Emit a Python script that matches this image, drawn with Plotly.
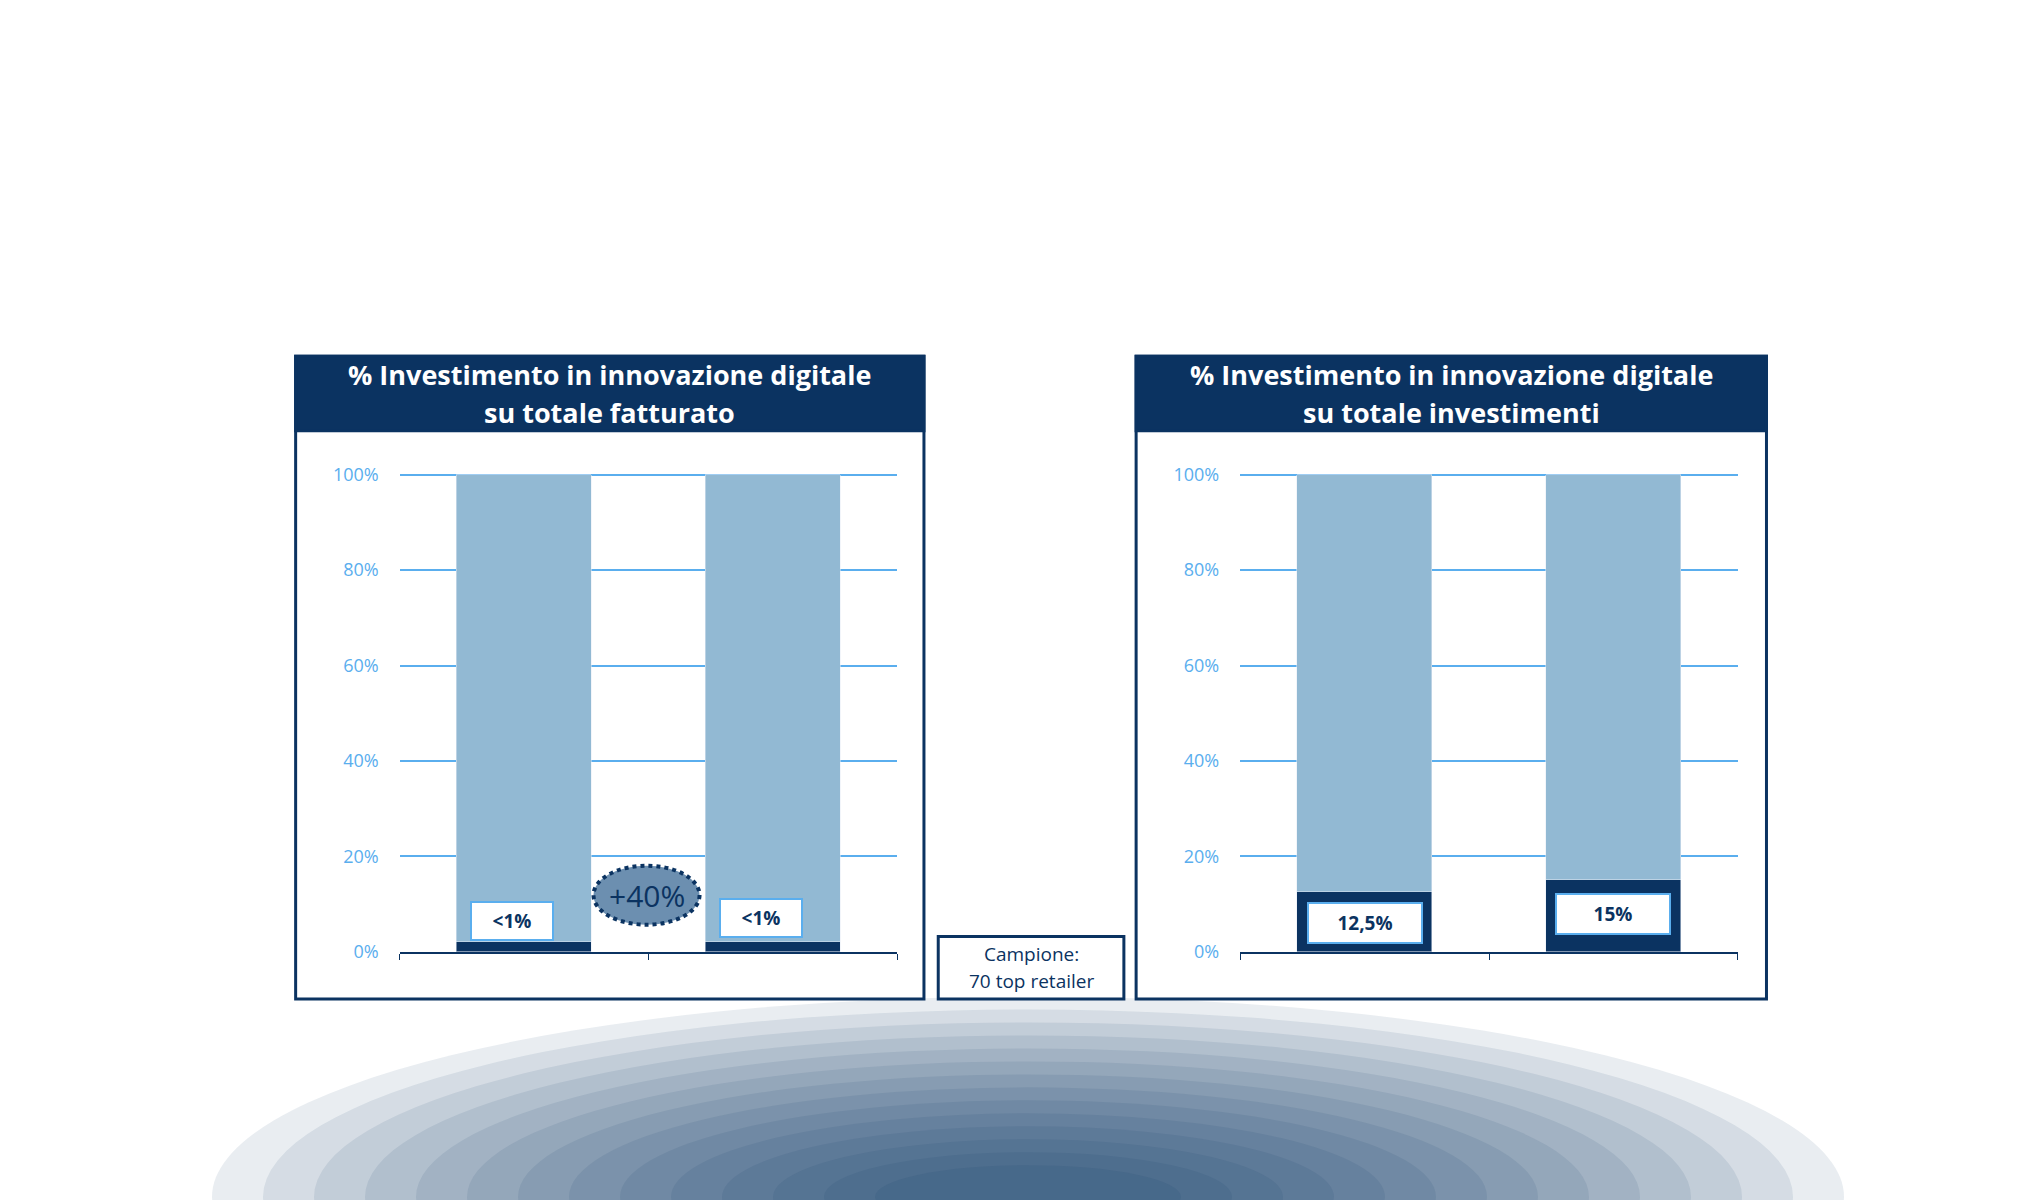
import plotly.graph_objects as go

# data
positions = [0, 1]
left_digital = [2, 2]
left_rest = [98, 98]
left_labels = ["<1%", "<1%"]
right_digital = [12.5, 15]
right_rest = [87.5, 85]
right_labels = ["12,5%", "15%"]
tick_vals = [0, 20, 40, 60, 80, 100]
tick_text = ["0%", "20%", "40%", "60%", "80%", "100%"]

NAVY = "#0b3361"
LIGHT = "#92b9d3"
GRID = "#5aaeee"
FONT = "Open Sans"

fig = go.Figure()

for xa, ya, dig, rest in [("x", "y", left_digital, left_rest), ("x2", "y2", right_digital, right_rest)]:
    fig.add_bar(x=positions, y=dig, marker_color=NAVY, width=0.54, xaxis=xa, yaxis=ya, showlegend=False)
    fig.add_bar(x=positions, y=rest, marker_color=LIGHT, width=0.54, xaxis=xa, yaxis=ya, showlegend=False)

axis_x = dict(range=[-0.5, 1.5], tickvals=[-0.5, 0.5, 1.5], ticktext=["", "", ""], ticks="outside",
              ticklen=6, tickcolor=NAVY, showline=True, linecolor=NAVY, linewidth=2,
              showgrid=False, zeroline=False, fixedrange=True)
axis_y = dict(range=[0, 100.6], tickvals=tick_vals, ticktext=tick_text, showgrid=True,
              gridcolor=GRID, gridwidth=2, zeroline=False, ticks="", ticklabelstandoff=20,
              tickfont=dict(family=FONT, size=18, color=GRID))

fig.update_layout(
    width=2040, height=1200, barmode="stack", plot_bgcolor="white", paper_bgcolor="white",
    margin=dict(l=0, r=0, t=0, b=0), bargap=0,
    xaxis=dict(domain=[0.192, 0.436], anchor="y", **axis_x),
    yaxis=dict(domain=[0.208, 0.615], anchor="x", **axis_y),
    xaxis2=dict(domain=[0.604, 0.848], anchor="y2", **axis_x),
    yaxis2=dict(domain=[0.208, 0.615], anchor="x2", **axis_y),
)

shapes = []
# soft bottom glow
for k in range(14):
    w = 0.40 - k * 0.025
    h = 0.17 - k * 0.011
    shapes.append(dict(type="circle", xref="paper", yref="paper", x0=0.5 - w, x1=0.5 + w,
                       y0=-h, y1=h, fillcolor=NAVY, opacity=0.09, line_width=0, layer="below"))

def note(x, y, text, size, color, **kw):
    fig.add_annotation(xref="paper", yref="paper", x=x, y=y, text=text, showarrow=False,
                       xanchor="center", yanchor="middle", align="center",
                       font=dict(family=FONT, size=size, color=color), **kw)

# panel frames and headers
for x0, x1, t1, t2 in [(0.141, 0.449, "% Investimento in innovazione digitale", "su totale fatturato"),
                       (0.553, 0.862, "% Investimento in innovazione digitale", "su totale investimenti")]:
    shapes.append(dict(type="rect", xref="paper", yref="paper", x0=x0, x1=x1, y0=0.168, y1=0.713,
                       line=dict(color=NAVY, width=3), fillcolor="rgba(0,0,0,0)"))
    shapes.append(dict(type="rect", xref="paper", yref="paper", x0=x0, x1=x1, y0=0.65, y1=0.713,
                       line=dict(color=NAVY, width=3), fillcolor=NAVY))
    note((x0 + x1) / 2, 0.698, "<b>" + t1 + "</b>", 27, "white")
    note((x0 + x1) / 2, 0.665, "<b>" + t2 + "</b>", 27, "white")
# campione box
shapes.append(dict(type="rect", xref="paper", yref="paper", x0=0.456, x1=0.547, y0=0.168, y1=0.221,
                   line=dict(color=NAVY, width=3), fillcolor="white"))
note(0.5015, 0.2065, "Campione:", 19, NAVY)
note(0.5015, 0.183, "70 top retailer", 19, NAVY)
# +40% badge
shapes.append(dict(type="circle", xref="paper", yref="paper", x0=0.287, x1=0.339, y0=0.231, y1=0.281,
                   fillcolor="#6c8fb0", line=dict(color=NAVY, width=4, dash="dot")))
note(0.313, 0.256, "+40%", 30, NAVY)
fig.update_layout(shapes=shapes)

for i, lab in enumerate(left_labels):
    fig.add_annotation(x=positions[i] - 0.05, y=[6.5, 7][i], xref="x", yref="y", text="<b>" + lab + "</b>",
                       showarrow=False, bgcolor="white", bordercolor=GRID, borderwidth=2, borderpad=5,
                       width=70, xanchor="center", yanchor="middle",
                       font=dict(family=FONT, size=19, color=NAVY))
for i, lab in enumerate(right_labels):
    fig.add_annotation(x=positions[i], y=[6, 8][i], xref="x2", yref="y2", text="<b>" + lab + "</b>",
                       showarrow=False, bgcolor="white", bordercolor=GRID, borderwidth=2, borderpad=6,
                       width=100, xanchor="center", yanchor="middle",
                       font=dict(family=FONT, size=19, color=NAVY))

fig.write_html("out.html")
